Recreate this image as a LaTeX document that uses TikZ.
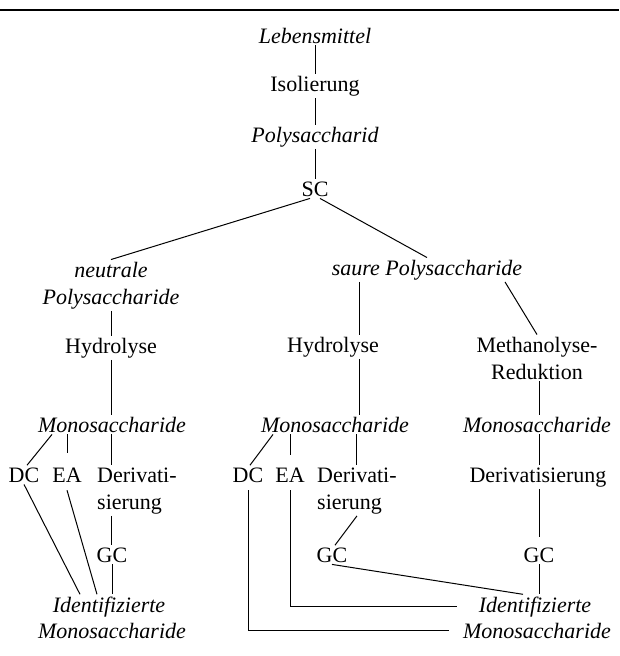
\documentclass[tikz,border=0pt]{standalone}
\usepackage{fontspec}
\setmainfont{Liberation Serif}
\newcommand\mytwoc[2]{\vtop{\halign{\hfil##\hfil\cr#1\cr#2\cr}}}
\newcommand\mytwol[2]{\vtop{\halign{##\hfil\cr#1\cr#2\cr}}}
\begin{document}
\begin{tikzpicture}[x=1pt,y=1pt,
  lbl/.style={font=\fontsize{22}{27}\selectfont, inner sep=2pt, anchor=base},
  it/.style={lbl, font=\fontsize{22}{27}\selectfont\itshape},
  conn/.style={line width=1pt}]
\useasboundingbox (0,0) rectangle (619,-656);
\draw[line width=1.2pt] (0,-10) -- (619,-10);

% column x positions
\coordinate (xA) at (111,0);
\coordinate (xB) at (359,0);
\coordinate (xC) at (539,0);

% top chain
\node[it]  (leb)  at (315,-43)   {Lebensmittel};
\node[lbl] (iso)  at (315,-91.5) {Isolierung};
\node[it]  (poly) at (315,-142)  {Polysaccharid};
\node[lbl] (sc)   at (315,-196)  {SC};

% second level
\node[it]  (neu)  at (111,-277) {\mytwoc{neutrale}{Polysaccharide}};
\node[it]  (sau)  at (427,-275) {saure Polysaccharide};

% left column
\node[lbl] (hydA) at (111,-353) {Hydrolyse};
\node[it]  (monA) at (112,-432) {Monosaccharide};
\node[lbl] (dcA)  at (24,-482)  {DC};
\node[lbl] (eaA)  at (67,-482)  {EA};
\node[lbl, anchor=base west] (derA) at (95,-482) {\mytwol{Derivati-}{sierung}};
\node[lbl] (gcA)  at (112,-562) {GC};
\node[it]  (idA1) at (109,-612) {Identifizierte};
\node[it]  (idA2) at (112,-638) {Monosaccharide};

% middle column
\node[lbl] (hydB) at (333,-352) {Hydrolyse};
\node[it]  (monB) at (335,-432) {Monosaccharide};
\node[lbl] (dcB)  at (248,-482) {DC};
\node[lbl] (eaB)  at (290,-482) {EA};
\node[lbl, anchor=base west] (derB) at (315,-482) {\mytwol{Derivati-}{sierung}};
\node[lbl] (gcB)  at (332,-562) {GC};

% right column
\node[lbl] (meth) at (537,-352) {\mytwoc{Methanolyse-}{Reduktion}};
\node[it]  (monC) at (537,-432) {Monosaccharide};
\node[lbl] (derC) at (538,-482) {Derivatisierung};
\node[lbl] (gcC)  at (539,-562) {GC};
\node[it]  (idC1) at (535,-612) {Identifizierte};
\node[it]  (idC2) at (537,-638) {Monosaccharide};

% connectors: top chain
\draw[conn] (leb) -- (iso);
\draw[conn] (iso) -- (poly);
\draw[conn] (poly) -- (sc);
\draw[conn] ([xshift=-5pt]sc.south) -- (neu.north);
\draw[conn] ([xshift=5pt]sc.south) -- (sau.north);

% left column
\draw[conn] (neu.south -| xA) -- (hydA.north -| xA);
\draw[conn] (hydA.south -| xA) -- (monA.north -| xA);
\draw[conn] ([xshift=-60pt]monA.south) -- ([xshift=3pt]dcA.north);
\draw[conn] (monA.south -| eaA.north) -- ([yshift=12pt]eaA.north);
\draw[conn] (monA.south -| xA) -- (derA.north -| xA);
\draw[conn] (derA.south -| xA) -- (gcA.north -| xA);
\draw[conn] (gcA.south) -- (gcA.south |- idA1.north);
\draw[conn] (dcA.south) -- ([xshift=-29pt]idA1.north);
\draw[conn] ([yshift=-6pt]eaA.south) -- ([xshift=-12pt]idA1.north);

% middle column
\draw[conn] (sau.south -| xB) -- (hydB.north -| xB);
\draw[conn] (hydB.south -| xB) -- (monB.north -| xB);
\draw[conn] ([xshift=-62pt]monB.south) -- ([xshift=2pt]dcB.north);
\draw[conn] (monB.south -| eaB.north) -- ([yshift=10pt]eaB.north);
\draw[conn] (monB.south -| derB.north) -- (derB.north);
\draw[conn] (derB.south) -- ([xshift=3pt]gcB.north);
\draw[conn] (gcB.south) -- ([xshift=-12pt]idC1.north);
\draw[conn] ([yshift=-6pt]eaB.south) |- ([xshift=-20pt]idC1.west);
\draw[conn] ([yshift=-6pt]dcB.south) |- ([xshift=-12pt]idC2.west);

% right column
\draw[conn] ([xshift=78pt]sau.south) -- (meth.north);
\draw[conn] (meth.south -| xC) -- (monC.north -| xC);
\draw[conn] (monC.south -| xC) -- (derC.north -| xC);
\draw[conn] (derC.south -| xC) -- ([yshift=8pt]gcC.north -| xC);
\draw[conn] (gcC.south -| xC) -- (idC1.north -| xC);
\end{tikzpicture}
\end{document}
